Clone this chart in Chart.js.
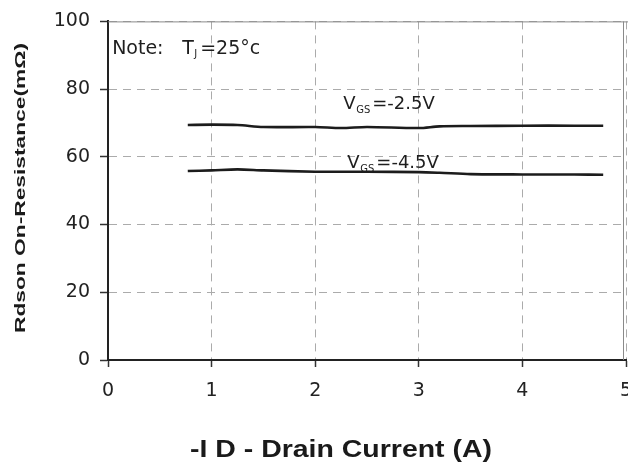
<!DOCTYPE html>
<html>
<head>
<meta charset="utf-8">
<script src="https://cdn.jsdelivr.net/npm/chart.js@4/dist/chart.umd.min.js"></script>
<style>
  html, body { margin: 0; padding: 0; background: #ffffff; }
  #wrap { width: 628px; height: 465px; position: relative; }
</style>
</head>
<body>
<div id="wrap"><canvas id="c" width="628" height="465"></canvas></div>
<script>
// ---- data ----
const drainCurrent = [0.77, 1.0, 1.25, 1.5, 2.0, 2.25, 2.5, 3.0, 3.2, 3.5, 4.0, 4.5, 4.78];
const rdsVgs25 = [69.4, 69.5, 69.4, 68.8, 68.8, 68.5, 68.8, 68.5, 69.0, 69.1, 69.2, 69.2, 69.2];
const rdsVgs45 = [55.8, 56.0, 56.3, 56.0, 55.6, 55.6, 55.6, 55.5, 55.3, 54.9, 54.8, 54.8, 54.7];
const xTicks = [0, 1, 2, 3, 4, 5];
const yTicks = [0, 20, 40, 60, 80, 100];
const xTitle = "-I D - Drain Current (A)";
const yTitle = "Rdson On-Resistance(mΩ)";
const seriesLabels = ["-2.5V", "-4.5V"];

const toPoints = (xs, ys) => xs.map((x, i) => ({ x: x, y: ys[i] }));

const textPlugin = {
  id: 'texts',
  afterDraw(chart) {
    const ctx = chart.ctx;
    const xs = chart.scales.x, ys = chart.scales.y;
    const area = chart.chartArea;
    ctx.save();
    // top & right frame
    ctx.strokeStyle = '#8a8a8a';
    ctx.lineWidth = 1;
    ctx.beginPath();
    ctx.moveTo(area.left, area.top + 0.5);
    ctx.lineTo(chart.width, area.top + 0.5);
    ctx.moveTo(area.right - 2.5, area.top);
    ctx.lineTo(area.right - 2.5, area.bottom);
    ctx.stroke();

    ctx.fillStyle = '#1e1e1e';
    ctx.textBaseline = 'alphabetic';
    ctx.textAlign = 'left';
    const px = v => xs.getPixelForValue(v);
    const py = v => ys.getPixelForValue(v);

    // Note
    const nx = px(0.04), ny = py(90.3);
    ctx.font = '19px "DejaVu Sans"';
    ctx.fillText('Note:', nx, ny);
    ctx.fillText('T', nx + 70, ny);
    ctx.font = '10px "DejaVu Sans"';
    ctx.fillText('J', nx + 82, ny + 3);
    ctx.font = '19px "DejaVu Sans"';
    ctx.fillText('=25°c', nx + 88, ny);

    // series labels
    const drawV = (xv, yv, rest) => {
      const x0 = px(xv), y0 = py(yv);
      ctx.font = '18px "DejaVu Sans"';
      ctx.fillText('V', x0, y0);
      ctx.font = '10px "DejaVu Sans"';
      ctx.fillText('GS', x0 + 13, y0 + 4);
      ctx.font = '18px "DejaVu Sans"';
      ctx.fillText('=' + rest, x0 + 29, y0);
    };
    drawV(2.27, 74.0, seriesLabels[0]);
    drawV(2.31, 56.6, seriesLabels[1]);

    // x title (stretched to reference width)
    ctx.fillStyle = '#1a1a1a';
    ctx.font = 'bold 24px "Liberation Sans"';
    let w = ctx.measureText(xTitle).width;
    ctx.save();
    ctx.translate(341, 457);
    ctx.scale(302 / w, 1);
    ctx.textAlign = 'center';
    ctx.fillText(xTitle, 0, 0);
    ctx.restore();

    // y title (rotated, stretched)
    ctx.font = 'bold 15px "Liberation Sans"';
    w = ctx.measureText(yTitle).width;
    ctx.save();
    ctx.translate(25, 188);
    ctx.rotate(-Math.PI / 2);
    ctx.scale(290 / w, 1);
    ctx.textAlign = 'center';
    ctx.fillText(yTitle, 0, 0);
    ctx.restore();
    ctx.restore();
  }
};

new Chart(document.getElementById('c'), {
  type: 'line',
  data: {
    datasets: [
      { label: 'VGS=' + seriesLabels[0], data: toPoints(drainCurrent, rdsVgs25),
        borderColor: '#1c1c1c', borderWidth: 2.6, pointRadius: 0, tension: 0.3, fill: false },
      { label: 'VGS=' + seriesLabels[1], data: toPoints(drainCurrent, rdsVgs45),
        borderColor: '#1c1c1c', borderWidth: 2.6, pointRadius: 0, tension: 0.3, fill: false }
    ]
  },
  options: {
    responsive: false,
    animation: false,
    layout: { padding: { top: 18, right: 2, left: 0, bottom: 0 } },
    plugins: { legend: { display: false }, tooltip: { enabled: false } },
    scales: {
      x: {
        type: 'linear', min: 0, max: 5,
        afterBuildTicks: s => { s.ticks = xTicks.map(v => ({ value: v })); },
        afterFit: s => { s.height = 105; s.paddingLeft = 0; s.paddingRight = 0; },
        ticks: { color: '#222', font: { family: 'DejaVu Sans', size: 19 }, padding: 13, maxRotation: 0 },
        grid: { color: '#ababab', lineWidth: 1, drawTicks: true, tickLength: 7,
                tickColor: '#333', tickBorderDash: [], tickWidth: 1.5 },
        border: { display: true, color: '#222', width: 2, dash: [8, 6] }
      },
      y: {
        type: 'linear', min: 0, max: 100,
        afterBuildTicks: s => { s.ticks = yTicks.map(v => ({ value: v })); },
        afterFit: s => { s.width = 108; },
        ticks: { color: '#222', font: { family: 'DejaVu Sans', size: 19 }, padding: 10 },
        grid: { color: '#ababab', lineWidth: 1, drawTicks: true, tickLength: 8,
                tickColor: '#333', tickBorderDash: [], tickWidth: 1.5 },
        border: { display: true, color: '#222', width: 2, dash: [8, 6] }
      }
    }
  },
  plugins: [textPlugin]
});
</script>
</body>
</html>
